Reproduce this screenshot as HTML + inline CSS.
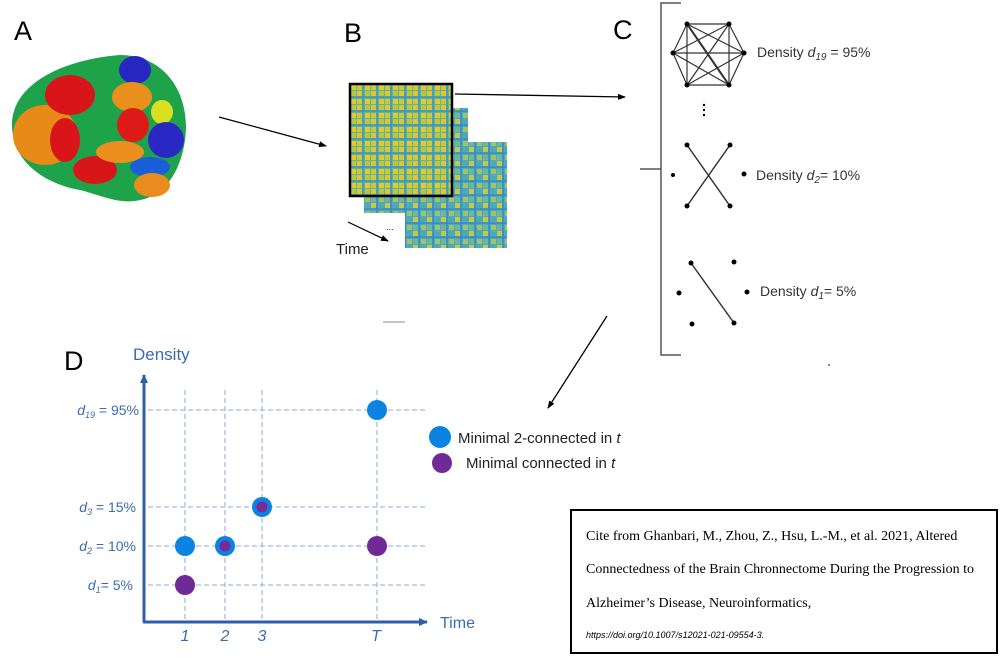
<!DOCTYPE html>
<html><head><meta charset="utf-8"><style>
html,body{margin:0;padding:0;background:#fff;}
svg{display:block;}
text{font-family:"Liberation Sans",sans-serif;}
.cite{font-family:"Liberation Serif",serif;font-size:14px;fill:#000;}
</style></head><body>
<svg width="1005" height="664" viewBox="0 0 1005 664" xmlns="http://www.w3.org/2000/svg">
<defs>
<marker id="ah" markerWidth="8" markerHeight="8" refX="7" refY="4" orient="auto" markerUnits="userSpaceOnUse"><path d="M0,1 L8,4 L0,7 Z" fill="#000"/></marker>
<marker id="bh" markerWidth="10" markerHeight="10" refX="8" refY="5" orient="auto" markerUnits="userSpaceOnUse"><path d="M0,1 L9,5 L0,9 Z" fill="#2e5fa8"/></marker>
<pattern id="mat" width="14" height="14" patternUnits="userSpaceOnUse">
<rect width="14" height="14" fill="#5fb3a0"/>
<rect x="1" y="1" width="5" height="5" fill="#e3c92a"/>
<rect x="7" y="1" width="5" height="5" fill="#c9c93a"/>
<rect x="1" y="7" width="5" height="5" fill="#b7c840"/>
<rect x="7" y="7" width="5" height="5" fill="#e0c62c"/>
<rect x="0" y="12.5" width="14" height="1.2" fill="#3a8fc8"/>
<rect x="12.5" y="0" width="1.2" height="14" fill="#3a8fc8"/>
</pattern>
<pattern id="mat2" width="14" height="14" patternUnits="userSpaceOnUse">
<rect width="14" height="14" fill="#4fa9b8"/>
<rect x="1" y="1" width="5" height="5" fill="#9fc26a"/>
<rect x="7" y="7" width="5" height="5" fill="#c7c84a"/>
<rect x="7" y="1" width="5" height="5" fill="#6db7a0"/>
<rect x="0" y="12.5" width="14" height="1.2" fill="#2f86cc"/>
<rect x="12.5" y="0" width="1.2" height="14" fill="#2f86cc"/>
</pattern>
</defs>

<text x="14" y="40" font-size="27">A</text>
<text x="344" y="42" font-size="27">B</text>
<text x="613" y="39" font-size="27">C</text>
<text x="64" y="370" font-size="27">D</text>

<!-- brain -->
<g>
<path d="M12,125 C12,85 60,60 120,55 C160,55 185,85 186,125 C186,160 170,195 140,200 C120,205 100,195 80,190 C50,185 12,165 12,125 Z" fill="#1fa34a"/>
<ellipse cx="45" cy="135" rx="32" ry="30" fill="#e88a17"/>
<ellipse cx="70" cy="95" rx="25" ry="20" fill="#d8161a"/>
<ellipse cx="65" cy="140" rx="15" ry="22" fill="#d8161a"/>
<ellipse cx="95" cy="170" rx="22" ry="14" fill="#d8161a"/>
<ellipse cx="135" cy="70" rx="16" ry="14" fill="#2626c0"/>
<ellipse cx="132" cy="97" rx="20" ry="15" fill="#eb8f1c"/>
<ellipse cx="133" cy="125" rx="16" ry="17" fill="#dd1a18"/>
<ellipse cx="162" cy="112" rx="11" ry="12" fill="#d8e020"/>
<ellipse cx="166" cy="140" rx="18" ry="18" fill="#2a28c4"/>
<ellipse cx="150" cy="167" rx="20" ry="10" fill="#1a5ed8"/>
<ellipse cx="120" cy="152" rx="24" ry="11" fill="#ec8f20"/>
<ellipse cx="152" cy="185" rx="18" ry="12" fill="#ea8b1d"/>
</g>

<line x1="219" y1="117" x2="326" y2="146" stroke="#000" stroke-width="1.3" marker-end="url(#ah)"/>
<line x1="455" y1="94" x2="625" y2="97" stroke="#000" stroke-width="1.3" marker-end="url(#ah)"/>

<rect x="405" y="142" width="102" height="106" fill="url(#mat2)"/>
<rect x="364" y="108" width="104" height="105" fill="url(#mat2)"/>
<rect x="350" y="84" width="102" height="112" fill="url(#mat)" stroke="#000" stroke-width="2.5"/>
<line x1="348" y1="222" x2="388" y2="241" stroke="#000" stroke-width="1.2" marker-end="url(#ah)"/>
<text x="386" y="230" font-size="9">...</text>
<text x="336" y="254" font-size="15" fill="#222">Time</text>
<line x1="383" y1="322" x2="405" y2="322" stroke="#888" stroke-width="1"/>

<path d="M681,3 H661 V355 H681" fill="none" stroke="#555" stroke-width="1.5"/>
<line x1="640" y1="169" x2="661" y2="169" stroke="#555" stroke-width="1.5"/>

<g stroke="#333" stroke-width="1.2">
<line x1="687" y1="24" x2="729" y2="24"/><line x1="687" y1="24" x2="673" y2="53"/><line x1="687" y1="24" x2="744" y2="53"/><line x1="687" y1="24" x2="687" y2="85"/><line x1="687" y1="24" x2="729" y2="85" stroke-width="2"/>
<line x1="729" y1="24" x2="673" y2="53"/><line x1="729" y1="24" x2="744" y2="53"/><line x1="729" y1="24" x2="687" y2="85"/><line x1="729" y1="24" x2="729" y2="85"/>
<line x1="673" y1="53" x2="744" y2="53"/><line x1="673" y1="53" x2="687" y2="85"/><line x1="673" y1="53" x2="729" y2="85"/>
<line x1="744" y1="53" x2="687" y2="85"/><line x1="744" y1="53" x2="729" y2="85"/><line x1="687" y1="85" x2="729" y2="85"/>
</g>
<g fill="#000">
<circle cx="687" cy="24" r="2.5"/><circle cx="729" cy="24" r="2.5"/><circle cx="673" cy="53" r="2.5"/><circle cx="744" cy="53" r="2.5"/><circle cx="687" cy="85" r="2.5"/><circle cx="729" cy="85" r="2.5"/>
<circle cx="704" cy="105" r="1.2"/><circle cx="704" cy="110" r="1.2"/><circle cx="704" cy="115" r="1.2"/>
</g>
<text x="757" y="57" font-size="14" fill="#333">Density <tspan font-style="italic">d<tspan font-size="10" dy="3">19</tspan></tspan><tspan dy="-3"> = 95%</tspan></text>

<g stroke="#333" stroke-width="1.5"><line x1="687" y1="145" x2="730" y2="206"/><line x1="730" y1="145" x2="687" y2="206"/></g>
<g fill="#000"><circle cx="687" cy="145" r="2.5"/><circle cx="730" cy="145" r="2.5"/><circle cx="687" cy="206" r="2.5"/><circle cx="730" cy="206" r="2.5"/><circle cx="673" cy="175" r="2"/><circle cx="744" cy="174" r="2.5"/></g>
<text x="756" y="180" font-size="14" fill="#333">Density <tspan font-style="italic">d<tspan font-size="10" dy="3">2</tspan></tspan><tspan dy="-3">= 10%</tspan></text>

<line x1="691" y1="263" x2="734" y2="323" stroke="#333" stroke-width="1.5"/>
<g fill="#000"><circle cx="691" cy="263" r="2.5"/><circle cx="734" cy="323" r="2.5"/><circle cx="734" cy="262" r="2.5"/><circle cx="679" cy="293" r="2.5"/><circle cx="747" cy="292" r="2.5"/><circle cx="692" cy="324" r="2.5"/><circle cx="829" cy="365" r="0.8"/></g>
<text x="760" y="296" font-size="14" fill="#333">Density <tspan font-style="italic">d<tspan font-size="10" dy="3">1</tspan></tspan><tspan dy="-3">= 5%</tspan></text>

<line x1="607" y1="316" x2="548" y2="408" stroke="#000" stroke-width="1.3" marker-end="url(#ah)"/>

<text x="133" y="360" font-size="17" fill="#3a6bb5">Density</text>
<g stroke="#8fa9e0" stroke-width="1" stroke-dasharray="5,3">
<line x1="148" y1="410" x2="425" y2="410"/><line x1="148" y1="507" x2="425" y2="507"/><line x1="148" y1="546" x2="425" y2="546"/><line x1="148" y1="585" x2="427" y2="585"/>
<line x1="185" y1="390" x2="185" y2="620"/><line x1="225" y1="390" x2="225" y2="620"/><line x1="262" y1="390" x2="262" y2="620"/><line x1="377" y1="390" x2="377" y2="620"/>
</g>
<line x1="144" y1="622" x2="144" y2="375" stroke="#2e5fa8" stroke-width="3" marker-end="url(#bh)"/>
<line x1="143" y1="622" x2="427" y2="622" stroke="#2e5fa8" stroke-width="3" marker-end="url(#bh)"/>
<g font-size="14" fill="#3a6bb5" font-family="Liberation Serif,serif" text-anchor="end">
<text x="139" y="415"><tspan font-style="italic">d<tspan font-size="9" dy="3">19</tspan></tspan><tspan dy="-3"> = 95%</tspan></text>
<text x="136" y="512"><tspan font-style="italic">d<tspan font-size="9" dy="3">3</tspan></tspan><tspan dy="-3"> = 15%</tspan></text>
<text x="136" y="551"><tspan font-style="italic">d<tspan font-size="9" dy="3">2</tspan></tspan><tspan dy="-3"> = 10%</tspan></text>
<text x="133" y="590"><tspan font-style="italic">d<tspan font-size="9" dy="3">1</tspan></tspan><tspan dy="-3">= 5%</tspan></text>
</g>
<g font-size="16" fill="#3a6bb5" font-style="italic" text-anchor="middle">
<text x="185" y="641">1</text><text x="225" y="641">2</text><text x="262" y="641">3</text><text x="376" y="641">T</text>
</g>
<text x="440" y="628" font-size="16" fill="#3a6bb5">Time</text>
<circle cx="377" cy="410" r="10" fill="#0a84e0"/>
<circle cx="185" cy="546" r="10" fill="#0a84e0"/>
<circle cx="225" cy="546" r="10" fill="#0a84e0"/><circle cx="225" cy="546" r="5.5" fill="#7a2a98"/>
<circle cx="262" cy="507" r="10" fill="#0a84e0"/><circle cx="262" cy="507" r="5.5" fill="#7a2a98"/>
<circle cx="377" cy="546" r="10" fill="#6f2a96"/>
<circle cx="185" cy="585" r="10" fill="#6f2a96"/>
<circle cx="440" cy="437" r="11" fill="#0a84e0"/>
<circle cx="442" cy="463" r="10" fill="#6f2a96"/>
<text x="458" y="443" font-size="15" fill="#222">Minimal 2-connected in <tspan font-style="italic">t</tspan></text>
<text x="466" y="468" font-size="15" fill="#222">Minimal connected in <tspan font-style="italic">t</tspan></text>

<rect x="571" y="510" width="426" height="143" fill="#fff" stroke="#000" stroke-width="2"/>
<text class="cite" x="586" y="540">Cite from Ghanbari, M., Zhou, Z., Hsu, L.-M., et al. 2021, Altered</text>
<text class="cite" x="586" y="573">Connectedness of the Brain Chronnectome During the Progression to</text>
<text class="cite" x="586" y="607">Alzheimer’s Disease, Neuroinformatics,</text>
<text x="586" y="638" font-size="9" font-style="italic" fill="#000">https://doi.org/10.1007/s12021-021-09554-3.</text>
</svg>
</body></html>
